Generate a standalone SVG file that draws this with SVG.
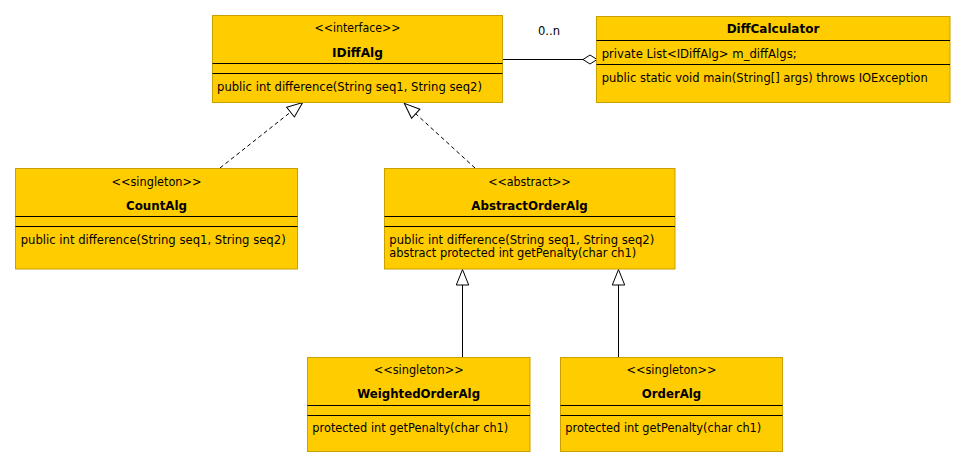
<svg xmlns="http://www.w3.org/2000/svg" width="965" height="467" viewBox="0 0 965 467">
<style>
.box{fill:#ffcc00;stroke:#c8a000;stroke-width:1}
.sep{stroke:#000;stroke-width:1}
text{font-family:"DejaVu Sans","Liberation Sans",sans-serif;font-size:11.5px;fill:#000}
.c{text-anchor:middle}
.b{font-weight:bold}
.conn{fill:none;stroke:#000;stroke-width:1}
.dash{stroke-dasharray:4,3}
</style>
<defs>
<marker id="tri" markerUnits="userSpaceOnUse" markerWidth="20" markerHeight="16" refX="16.5" refY="7" orient="auto">
<path d="M1,0.8 L16.5,7 L1,13.2 Z" fill="#fff" stroke="#000" stroke-width="1" stroke-dasharray="none"/>
</marker>
<marker id="dia" markerUnits="userSpaceOnUse" markerWidth="18" markerHeight="12" refX="15" refY="6" orient="auto">
<path d="M1,6 L8,1.5 L15,6 L8,10.5 Z" fill="#fff" stroke="#000" stroke-width="1"/>
</marker>
</defs>
<rect width="965" height="467" fill="#fff"/>

<g id="connectors">
<line class="conn" x1="502.5" y1="59.5" x2="597" y2="59.5" marker-end="url(#dia)"/>
<text x="549" y="34.5" class="c" textLength="22" lengthAdjust="spacingAndGlyphs">0..n</text>
<line class="conn dash" x1="220" y1="168" x2="302.7" y2="102.5" marker-end="url(#tri)"/>
<line class="conn dash" x1="475" y1="168" x2="404.3" y2="103.3" marker-end="url(#tri)"/>
<line class="conn" x1="462.5" y1="357" x2="462.5" y2="269.5" marker-end="url(#tri)"/>
<line class="conn" x1="618.5" y1="357" x2="618.5" y2="269.5" marker-end="url(#tri)"/>
</g>

<g id="IDiffAlg">
<rect class="box" x="212.5" y="15.5" width="290" height="87"/>
<text x="357.5" y="32" class="c" textLength="86" lengthAdjust="spacingAndGlyphs">&lt;&lt;interface&gt;&gt;</text>
<text x="357.5" y="56.5" class="c b" textLength="51" lengthAdjust="spacingAndGlyphs">IDiffAlg</text>
<line class="sep" x1="212.5" y1="63.5" x2="502.5" y2="63.5"/>
<line class="sep" x1="212.5" y1="73.5" x2="502.5" y2="73.5"/>
<text x="217" y="91" textLength="265" lengthAdjust="spacingAndGlyphs">public int difference(String seq1, String seq2)</text>
</g>

<g id="DiffCalculator">
<rect class="box" x="596.5" y="16.5" width="353.5" height="86"/>
<text x="773" y="33.3" class="c b" textLength="92.7" lengthAdjust="spacingAndGlyphs">DiffCalculator</text>
<line class="sep" x1="596.5" y1="40.5" x2="950" y2="40.5"/>
<text x="601.7" y="57.7" textLength="195" lengthAdjust="spacingAndGlyphs">private List&lt;IDiffAlg&gt; m_diffAlgs;</text>
<line class="sep" x1="596.5" y1="64.5" x2="950" y2="64.5"/>
<text x="601.7" y="81.7" textLength="326" lengthAdjust="spacingAndGlyphs">public static void main(String[] args) throws IOException</text>
</g>

<g id="CountAlg">
<rect class="box" x="15.5" y="168.5" width="282" height="100.5"/>
<text x="156.5" y="185.5" class="c" textLength="90" lengthAdjust="spacingAndGlyphs">&lt;&lt;singleton&gt;&gt;</text>
<text x="156.5" y="209.5" class="c b" textLength="61" lengthAdjust="spacingAndGlyphs">CountAlg</text>
<line class="sep" x1="15.5" y1="216.5" x2="297.5" y2="216.5"/>
<line class="sep" x1="15.5" y1="226.5" x2="297.5" y2="226.5"/>
<text x="20.7" y="244" textLength="265" lengthAdjust="spacingAndGlyphs">public int difference(String seq1, String seq2)</text>
</g>

<g id="AbstractOrderAlg">
<rect class="box" x="384.5" y="168.5" width="290.5" height="100.5"/>
<text x="529.5" y="185.5" class="c" textLength="82.7" lengthAdjust="spacingAndGlyphs">&lt;&lt;abstract&gt;&gt;</text>
<text x="529.5" y="209.5" class="c b" textLength="116.3" lengthAdjust="spacingAndGlyphs">AbstractOrderAlg</text>
<line class="sep" x1="384.5" y1="216.5" x2="675" y2="216.5"/>
<line class="sep" x1="384.5" y1="226.5" x2="675" y2="226.5"/>
<text x="389.3" y="244" textLength="265" lengthAdjust="spacingAndGlyphs">public int difference(String seq1, String seq2)</text>
<text x="389.3" y="256.8" textLength="247" lengthAdjust="spacingAndGlyphs">abstract protected int getPenalty(char ch1)</text>
</g>

<g id="WeightedOrderAlg">
<rect class="box" x="307.5" y="357.5" width="222.5" height="94"/>
<text x="418.7" y="374.3" class="c" textLength="90" lengthAdjust="spacingAndGlyphs">&lt;&lt;singleton&gt;&gt;</text>
<text x="418.7" y="398.3" class="c b" textLength="122.7" lengthAdjust="spacingAndGlyphs">WeightedOrderAlg</text>
<line class="sep" x1="307.5" y1="405.5" x2="530" y2="405.5"/>
<line class="sep" x1="307.5" y1="415.5" x2="530" y2="415.5"/>
<text x="312.3" y="431.7" textLength="196" lengthAdjust="spacingAndGlyphs">protected int getPenalty(char ch1)</text>
</g>

<g id="OrderAlg">
<rect class="box" x="560.5" y="357.5" width="222" height="94"/>
<text x="671.5" y="374.3" class="c" textLength="90" lengthAdjust="spacingAndGlyphs">&lt;&lt;singleton&gt;&gt;</text>
<text x="671.5" y="398.3" class="c b" textLength="59.3" lengthAdjust="spacingAndGlyphs">OrderAlg</text>
<line class="sep" x1="560.5" y1="405.5" x2="782.5" y2="405.5"/>
<line class="sep" x1="560.5" y1="415.5" x2="782.5" y2="415.5"/>
<text x="565.3" y="431.7" textLength="196" lengthAdjust="spacingAndGlyphs">protected int getPenalty(char ch1)</text>
</g>
</svg>
